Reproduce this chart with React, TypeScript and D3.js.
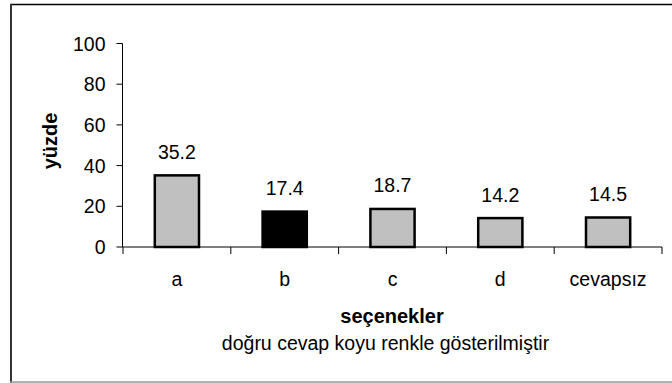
import React from "react";
import * as d3 from "d3";

const categories = ["a", "b", "c", "d", "cevapsız"];
const values = [35.2, 17.4, 18.7, 14.2, 14.5];
const correct = [false, true, false, false, false];
const yTicks = [0, 20, 40, 60, 80, 100];

const W = 672;
const H = 383;
const font = "'Liberation Sans', Arial, sans-serif";

export default function App() {
  const x = d3.scaleBand<string>().domain(categories).range([123, 662]).paddingInner(0).paddingOuter(0);
  const y = d3.scaleLinear().domain([0, 100]).range([247, 43.5]);
  const bw = x.bandwidth() * 0.41;
  const fs = 19.5;
  return (
    <svg width={W} height={H} style={{ position: "absolute", left: 0, top: 0 }}>
      <rect x={0} y={0} width={W} height={H} fill="#fff" />
      <line x1={10} y1={4.5} x2={672} y2={4.5} stroke="#000" strokeWidth={1.5} />
      <line x1={11} y1={4} x2={11} y2={383} stroke="#333" strokeWidth={2} />
      <line x1={10} y1={382} x2={672} y2={382} stroke="#999" strokeWidth={1.5} />
      {/* y axis */}
      <line x1={122.5} y1={y(100)} x2={122.5} y2={y(0)} stroke="#000" strokeWidth={1} />
      {yTicks.map((t) => (
        <g key={t}>
          <line x1={116.5} x2={122.5} y1={y(t)} y2={y(t)} stroke="#000" />
          <text x={105.5} y={y(t)} dy="0.36em" textAnchor="end" fontFamily={font} fontSize={fs}>
            {t}
          </text>
        </g>
      ))}
      {/* bars */}
      {categories.map((c, i) => {
        const cx = (x(c) as number) + x.bandwidth() / 2;
        return (
          <g key={c}>
            <rect
              x={cx - bw / 2}
              y={y(values[i])}
              width={bw}
              height={y(0) - y(values[i])}
              fill={correct[i] ? "#000" : "#c0c0c0"}
              stroke="#000"
              strokeWidth={2.5}
            />
            <text x={cx} y={y(values[i]) - 16.5} textAnchor="middle" fontFamily={font} fontSize={fs}>
              {values[i]}
            </text>
            <text x={cx} y={285.5} textAnchor="middle" fontFamily={font} fontSize={fs}>
              {c}
            </text>
          </g>
        );
      })}
      {/* x axis */}
      <line x1={122.5} x2={662} y1={y(0)} y2={y(0)} stroke="#000" />
      {categories.concat(["end"]).map((c, i) => {
        const tx = 123 + i * x.bandwidth();
        return <line key={i} x1={tx} x2={tx} y1={y(0)} y2={y(0) + 7} stroke="#000" />;
      })}
      <text x={392} y={323} textAnchor="middle" fontFamily={font} fontSize={20} fontWeight="bold">
        seçenekler
      </text>
      <text x={385.5} y={350} textAnchor="middle" fontFamily={font} fontSize={fs}>
        doğru cevap koyu renkle gösterilmiştir
      </text>
      <text
        transform={`translate(57,141) rotate(-90)`}
        textAnchor="middle"
        fontFamily={font}
        fontSize={20}
        fontWeight="bold"
      >
        yüzde
      </text>
    </svg>
  );
}
